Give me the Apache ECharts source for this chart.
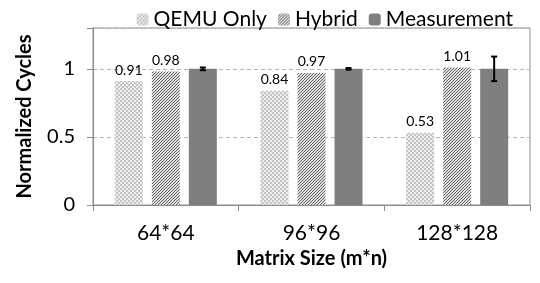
<!DOCTYPE html>
<html>
<head>
<meta charset="utf-8">
<script src="https://cdn.jsdelivr.net/npm/echarts@6/dist/echarts.min.js"></script>
<style>
html,body{margin:0;padding:0;background:#fff;}
#chart{width:540px;height:283px;}
</style>
</head>
<body>
<div id="chart"></div>
<script>
// data
var categories=['64*64','96*96','128*128'];
var qemuOnly=[0.91,0.84,0.53];
var hybrid=[0.98,0.97,1.01];
var measurement=[1,1,1];
var measErr=[0.01,0.006,0.09];
var yTicks=[0,0.5,1];

var FONT='Lato, "Open Sans", sans-serif';
var BAR_W=28,BAR_GAP=9;

function pattern(size,draw){
    var c=document.createElement('canvas');
    c.width=size;c.height=size;
    var ctx=c.getContext('2d');
    draw(ctx);
    return {image:c,repeat:'repeat'};
}
// light blocky tile for QEMU Only
var qemuFill=pattern(4,function(ctx){
    ctx.fillStyle='#f0f0f0';ctx.fillRect(0,0,4,4);
    ctx.fillStyle='#c4c4c4';
    ctx.fillRect(0,0,2,2);ctx.fillRect(2,2,2,2);
    ctx.fillStyle='#dcdcdc';
    ctx.fillRect(2,0,1,1);ctx.fillRect(0,2,1,1);
});
// diagonal /// stripes for Hybrid
var hybridFill=pattern(3,function(ctx){
    ctx.fillStyle='#dedede';ctx.fillRect(0,0,3,3);
    ctx.fillStyle='#666666';
    for(var i=0;i<3;i++){ctx.fillRect(2-i,i,1,1);}
});

var errData=categories.map(function(c,i){
    return [i,measurement[i]-measErr[i],measurement[i]+measErr[i]];
});

var chart=echarts.init(document.getElementById('chart'));
chart.setOption({
    animation:false,
    textStyle:{fontFamily:FONT},
    legend:{
        top:4,right:22,itemWidth:12,itemHeight:12,itemGap:11,
        textStyle:{fontSize:21,color:'#000',fontFamily:FONT},
        data:['QEMU Only','Hybrid','Measurement']
    },
    grid:{left:93,right:10,top:28,bottom:78,show:true,borderColor:'#8c8c8c',borderWidth:1},
    xAxis:{
        type:'category',data:categories,
        name:'Matrix Size (m*n)',nameLocation:'middle',nameGap:44,
        nameTextStyle:{fontSize:20,fontWeight:'bold',color:'#000',fontFamily:FONT},
        axisLine:{lineStyle:{color:'#8c8c8c'}},
        axisTick:{show:true,length:6,lineStyle:{color:'#8c8c8c'}},
        axisLabel:{fontSize:21,color:'#000',margin:18,fontFamily:FONT}
    },
    yAxis:{
        type:'value',min:0,max:1.3,interval:0.5,
        name:'Normalized Cycles',nameLocation:'middle',nameGap:58,
        nameTextStyle:{fontSize:20,fontWeight:'bold',color:'#000',fontFamily:FONT},
        axisLine:{show:true,lineStyle:{color:'#8c8c8c'}},
        axisTick:{show:true,length:6,lineStyle:{color:'#8c8c8c'}},
        axisLabel:{fontSize:20,color:'#000',margin:18,fontFamily:FONT,
            formatter:function(v){return yTicks.indexOf(v)>=0?String(v):'';}},
        splitLine:{show:true,lineStyle:{color:'#b5b5b5',type:[4,3]}}
    },
    series:[
        {name:'QEMU Only',type:'bar',data:qemuOnly,barWidth:BAR_W,barGap:(BAR_GAP/BAR_W*100)+'%',
            itemStyle:{color:qemuFill},
            label:{show:true,position:'top',fontSize:14,color:'#000',distance:4,formatter:function(p){return p.value.toFixed(2);}}},
        {name:'Hybrid',type:'bar',data:hybrid,barWidth:BAR_W,
            itemStyle:{color:hybridFill},
            label:{show:true,position:'top',fontSize:14,color:'#000',distance:4,formatter:function(p){return p.value.toFixed(2);}}},
        {name:'Measurement',type:'bar',data:measurement,barWidth:BAR_W,
            itemStyle:{color:'#7f7f7f'}},
        {type:'custom',name:'err',data:errData,z:10,
            renderItem:function(params,api){
                var x=api.coord([api.value(0),0])[0]+BAR_W+BAR_GAP;
                var lo=api.coord([api.value(0),api.value(1)])[1];
                var hi=api.coord([api.value(0),api.value(2)])[1];
                var s={stroke:'#000',lineWidth:2};
                return {type:'group',children:[
                    {type:'line',shape:{x1:x,y1:lo,x2:x,y2:hi},style:s},
                    {type:'line',shape:{x1:x-3,y1:lo,x2:x+3,y2:lo},style:s},
                    {type:'line',shape:{x1:x-3,y1:hi,x2:x+3,y2:hi},style:s}
                ]};
            }}
    ]
});
</script>
</body>
</html>
